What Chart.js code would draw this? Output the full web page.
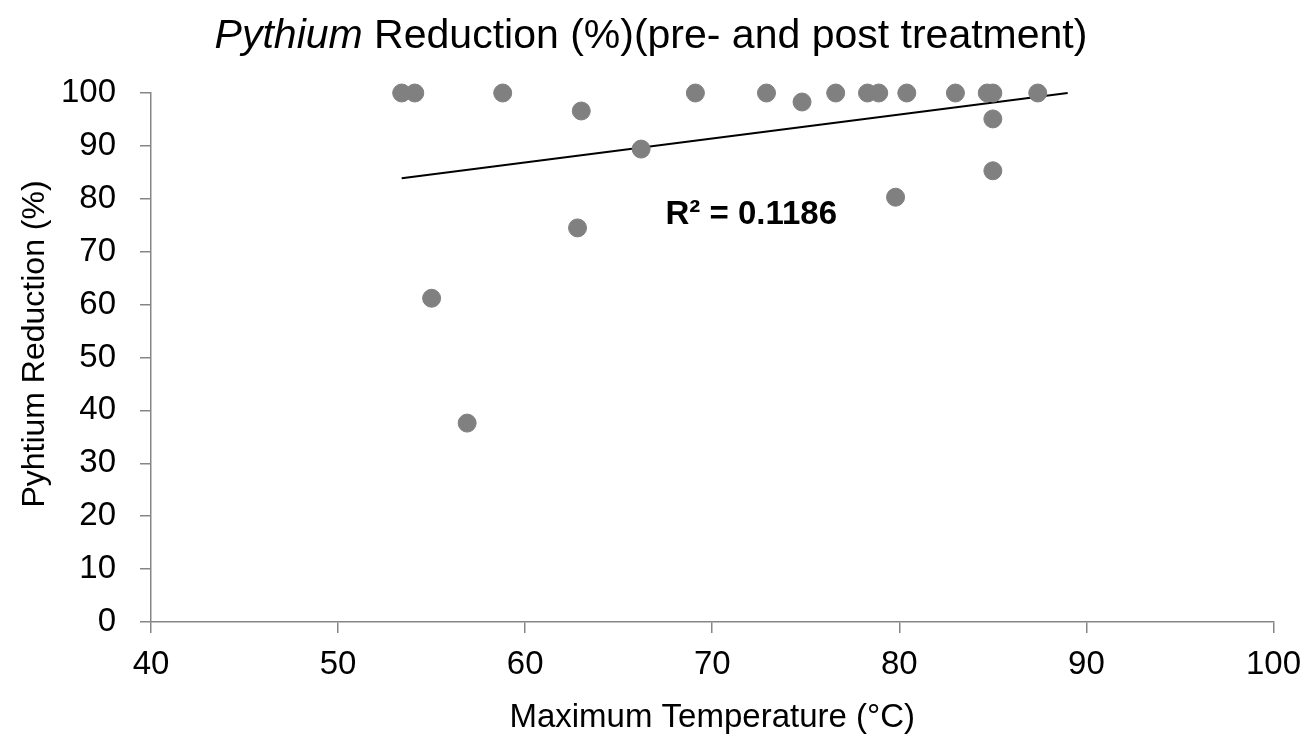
<!DOCTYPE html>
<html>
<head>
<meta charset="utf-8">
<script src="https://cdn.jsdelivr.net/npm/chart.js@4/dist/chart.umd.min.js"></script>
<style>
  html, body { margin: 0; padding: 0; background: #fff; }
  #wrap { width: 1313px; height: 742px; }
</style>
</head>
<body>
<div id="wrap"><canvas id="myChart"></canvas></div>
<script>
// max temperature (°C) and Pythium reduction (%)
let maxTemp = [53.4, 54.1, 58.8, 63.0, 62.8, 55.0, 56.9, 66.2, 69.1, 72.9, 74.8,
  76.6, 78.3, 78.9, 79.8, 80.4, 83.0, 84.7, 85.0, 85.0, 85.0, 87.4];
let reduction = [100, 100, 100, 96.6, 74.5, 61.2, 37.6, 89.4, 100, 100, 98.3,
  100, 100, 100, 80.3, 100, 100, 100, 100, 95.1, 85.3, 100];

// linear trendline end points
let trendX = [53.4, 89.0];
let trendY = [83.9, 100];
let rSquared = 'R² = 0.1186';
let yTitle = 'Pyhtium Reduction (%)';

let fontName = "'Liberation Sans', Arial, sans-serif";
let axisColor = '#868686';

let points = maxTemp.map((t, i) => ({ x: t, y: reduction[i] }));
let trend = trendX.map((t, i) => ({ x: t, y: trendY[i] }));

// title with an italic genus name, the y title and the R² label
let labelsPlugin = {
  id: 'labels',
  afterDraw(chart) {
    let ctx = chart.ctx;
    ctx.save();
    ctx.fillStyle = '#000';
    ctx.textBaseline = 'middle';
    let italic = 'italic 41px ' + fontName;
    let normal = '41px ' + fontName;
    ctx.font = italic;
    let w1 = ctx.measureText('Pythium').width;
    ctx.font = normal;
    let rest = ' Reduction (%)(pre- and post treatment)';
    let w2 = ctx.measureText(rest).width;
    let x0 = 651 - (w1 + w2) / 2;
    ctx.font = italic;
    ctx.fillText('Pythium', x0, 37);
    ctx.font = normal;
    ctx.fillText(rest, x0 + w1, 37);

    ctx.save();
    ctx.translate(35, 344);
    ctx.rotate(-Math.PI / 2);
    ctx.textAlign = 'center';
    ctx.font = '32px ' + fontName;
    ctx.fillText(yTitle, 0, 0);
    ctx.restore();

    let xs = chart.scales.x, ys = chart.scales.y;
    ctx.font = 'bold 33px ' + fontName;
    ctx.textAlign = 'left';
    ctx.fillText(rSquared, xs.getPixelForValue(67.5), ys.getPixelForValue(77));
    ctx.restore();
  }
};

let ctx = document.getElementById('myChart');
let myChart = new Chart(ctx, {
  type: 'scatter',
  data: {
    datasets: [
      {
        data: points,
        backgroundColor: '#808080',
        borderColor: '#808080',
        pointRadius: 9,
        pointHoverRadius: 9,
        clip: false
      },
      {
        type: 'line',
        data: trend,
        borderColor: '#000',
        borderWidth: 2,
        pointRadius: 0,
        fill: false,
        clip: false
      }
    ]
  },
  options: {
    responsive: true,
    maintainAspectRatio: false,
    animation: false,
    layout: { padding: { top: 93, right: 38, left: 0, bottom: 0 } },
    plugins: {
      legend: { display: false },
      tooltip: { enabled: false },
      title: { display: false }
    },
    scales: {
      x: {
        type: 'linear',
        min: 40,
        max: 100,
        afterFit: (scale) => { scale.height = 120; },
        ticks: { stepSize: 10, color: '#000', padding: 12, font: { family: fontName, size: 33 } },
        grid: { drawOnChartArea: false, drawTicks: true, tickLength: 11, color: axisColor, lineWidth: 1.5 },
        border: { color: axisColor, width: 1.5 },
        title: {
          display: true,
          text: 'Maximum Temperature (°C)',
          color: '#000',
          font: { family: fontName, size: 33, lineHeight: 1 },
          padding: { top: 0, bottom: 8 }
        }
      },
      y: {
        min: 0,
        max: 100,
        afterFit: (scale) => { scale.width = 151; },
        ticks: { stepSize: 10, color: '#000', padding: 24, font: { family: fontName, size: 33 } },
        grid: { drawOnChartArea: false, drawTicks: true, tickLength: 11, color: axisColor, lineWidth: 1.5 },
        border: { color: axisColor, width: 1.5 }
      }
    }
  },
  plugins: [labelsPlugin]
});
</script>
</body>
</html>
